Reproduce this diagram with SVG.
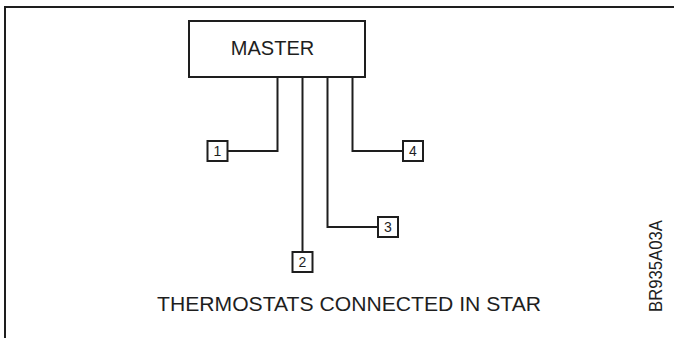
<svg xmlns="http://www.w3.org/2000/svg" width="674" height="338" viewBox="0 0 674 338">
<style>
.ln{fill:none;stroke:#1e1e1e;stroke-width:2;stroke-linecap:square}
.bx{fill:#fff;stroke:#1e1e1e;stroke-width:2}
.t{font-family:"Liberation Sans",Arial,sans-serif;fill:#1e1e1e}
.num{font-size:14px;text-anchor:middle}
</style>
<rect width="674" height="338" fill="#fff"/>
<g id="frame">
<path class="ln" d="M5,338 V7 H674"/>
</g>
<g id="connectors">
<path class="ln" d="M277.5,77 V151 H227.5"/>
<path class="ln" d="M302.5,77 V252"/>
<path class="ln" d="M327.5,77 V227 H378"/>
<path class="ln" d="M352.5,77 V151 H403"/>
</g>
<g id="master">
<rect class="bx" x="189" y="21" width="176" height="56"/>
<text class="t" x="272.5" y="55" font-size="20" text-anchor="middle">MASTER</text>
</g>
<g id="t1">
<rect class="bx" x="207.5" y="141" width="20" height="20"/>
<text class="t num" x="217.5" y="156">1</text>
</g>
<g id="t2">
<rect class="bx" x="292.5" y="252" width="20" height="20"/>
<text class="t num" x="302.5" y="267">2</text>
</g>
<g id="t3">
<rect class="bx" x="378" y="217" width="20" height="20"/>
<text class="t num" x="388" y="232">3</text>
</g>
<g id="t4">
<rect class="bx" x="403" y="141" width="20" height="20"/>
<text class="t num" x="413" y="156">4</text>
</g>
<text class="t" x="157" y="311" font-size="20" textLength="384" lengthAdjust="spacingAndGlyphs">THERMOSTATS CONNECTED IN STAR</text>
<text class="t" transform="translate(662,312) rotate(-90)" font-size="19" textLength="92" lengthAdjust="spacingAndGlyphs">BR935A03A</text>
</svg>
